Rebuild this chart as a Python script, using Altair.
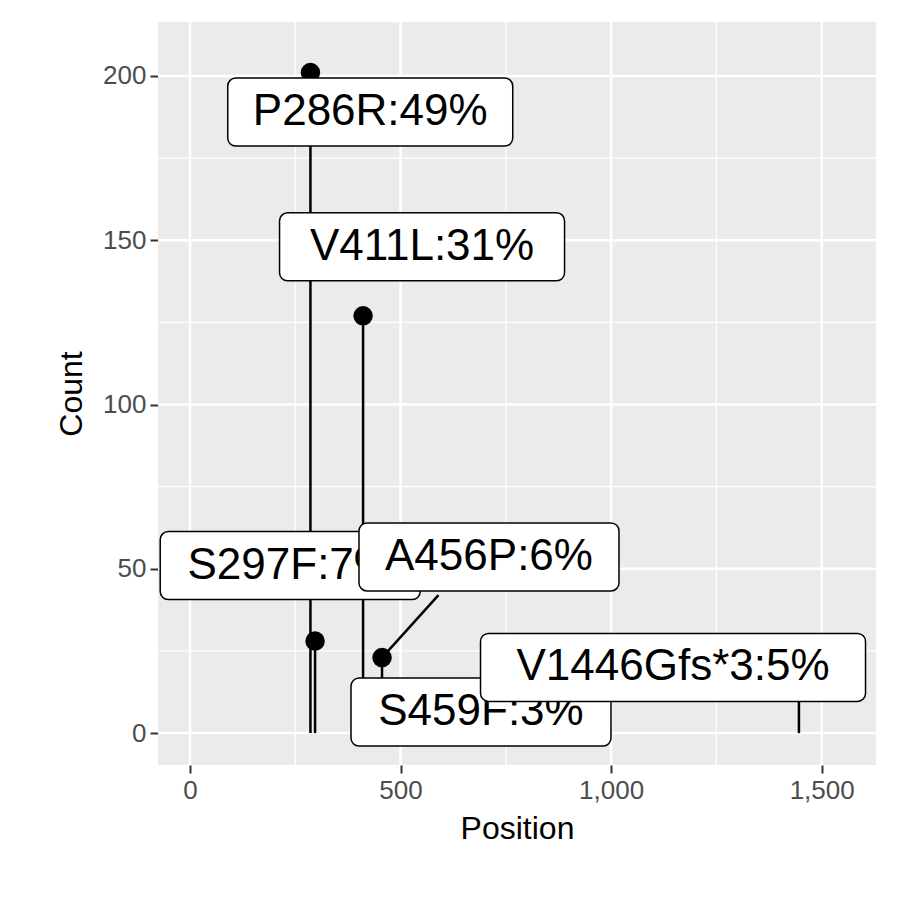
import altair as alt
import pandas as pd

# mutations
names = ["P286R", "V411L", "S297F", "A456P", "S459F", "V1446Gfs*3"]
labels = ["P286R:49%", "V411L:31%", "S297F:7%", "A456P:6%", "S459F:3%", "V1446Gfs*3:5%"]
position = [286, 411, 297, 456, 459, 1446]
count = [201, 127, 28, 23, 12, 13]
# repelled label centres (data units)
label_x = [428, 551, 238, 710, 691, 1147]
label_y = [189, 148, 51, 53.6, 6.4, 20]

x_major = [0, 500, 1000, 1500]
x_minor = [250, 750, 1250]
y_major = [0, 50, 100, 150, 200]
y_minor = [25, 75, 125, 175]

XD = [-76, 1629]
YD = [-9.7, 216.4]
W, H = 718, 743
px_x = W / (XD[1] - XD[0])
px_y = H / (YD[1] - YD[0])

df = pd.DataFrame({"pos": position, "count": count, "zero": 0})
xs = alt.Scale(domain=XD, nice=False, zero=False)
ys = alt.Scale(domain=YD, nice=False, zero=False)

ax_x = alt.Axis(values=x_major, grid=False, tickSize=8, tickColor="#333333",
                tickWidth=2, labelFontSize=26, labelColor="#4D4D4D",
                titleFontSize=32, titleFontWeight="normal", titleColor="black",
                domain=False, labelPadding=4, titlePadding=10, title="Position")
ax_y = alt.Axis(values=y_major, grid=False, tickSize=8, tickColor="#333333",
                tickWidth=2, labelFontSize=26, labelColor="#4D4D4D",
                titleFontSize=32, titleFontWeight="normal", titleColor="black",
                domain=False, labelPadding=4, titlePadding=14, title="Count")

def X(f):
    return alt.X(f, scale=xs, axis=ax_x)

def Y(f):
    return alt.Y(f, scale=ys, axis=ax_y)

def vgrid(vals, w):
    return alt.Chart(pd.DataFrame({"v": vals})).mark_rule(color="white", strokeWidth=w).encode(
        x=X("v:Q"))

def hgrid(vals, w):
    return alt.Chart(pd.DataFrame({"v": vals})).mark_rule(color="white", strokeWidth=w).encode(
        y=Y("v:Q"))

stems = alt.Chart(df).mark_rule(color="black", strokeWidth=2.5).encode(
    x=X("pos:Q"), y=Y("count:Q"), y2="zero:Q")
dots = alt.Chart(df).mark_circle(color="black", opacity=1, size=380).encode(
    x=X("pos:Q"), y=Y("count:Q"))

layers = [vgrid(x_minor, 1.2), hgrid(y_minor, 1.2), vgrid(x_major, 2.5), hgrid(y_major, 2.5),
          stems, dots]

# segment for A456P
seg = pd.DataFrame({"x": [456], "y": [23], "x2": [590], "y2": [42]})
layers.append(alt.Chart(seg).mark_rule(color="black", strokeWidth=2.5).encode(
    x=X("x:Q"), y=Y("y:Q"), x2="x2:Q", y2="y2:Q"))

for i, t in enumerate(labels):
    half_w = (len(t) * 25 + 60) / 2 / px_x
    half_h = 34 / px_y
    d = pd.DataFrame({"t": [t], "x": [label_x[i]], "y": [label_y[i]],
                      "x1": [label_x[i] - half_w], "x2": [label_x[i] + half_w],
                      "y1": [label_y[i] - half_h], "y2": [label_y[i] + half_h]})
    box = alt.Chart(d).mark_rect(fill="white", stroke="black", strokeWidth=1.5, cornerRadius=8).encode(
        x=X("x1:Q"), x2="x2:Q", y=Y("y1:Q"), y2="y2:Q")
    txt = alt.Chart(d).mark_text(fontSize=44, color="black", font="Liberation Sans").encode(
        x=X("x:Q"), y=Y("y:Q"), text="t:N")
    layers += [box, txt]

chart = alt.layer(*layers).properties(
    width=W, height=H, autosize="none",
    padding={"left": 150, "top": 14, "right": 16, "bottom": 127},
).configure_view(fill="#EBEBEB", stroke=None).configure_axis(
    labelFont="Liberation Sans", titleFont="Liberation Sans")

chart.save("out.html", embed_options={"renderer": "svg", "actions": False})
